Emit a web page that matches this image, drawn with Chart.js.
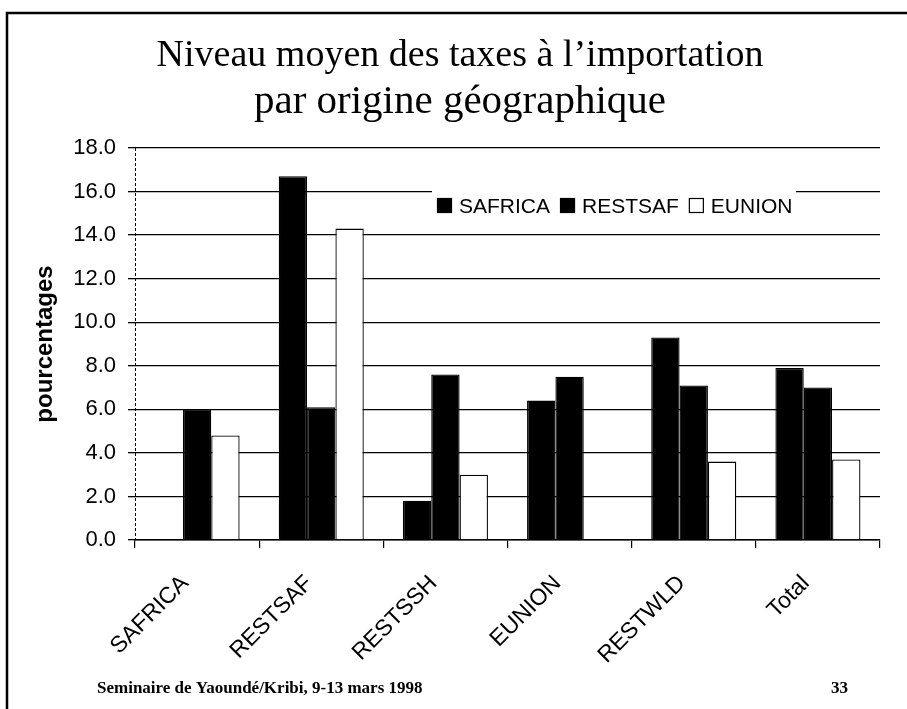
<!DOCTYPE html>
<html>
<head>
<meta charset="utf-8">
<script src="https://cdn.jsdelivr.net/npm/chart.js@4.4.0/dist/chart.umd.min.js"></script>
<style>
  html, body { margin: 0; padding: 0; background: #fff; }
  #wrap { width: 907px; height: 709px; }
</style>
</head>
<body>
<div id="wrap"><canvas id="c" width="907" height="709"></canvas></div>
<script>
// ---- data ----
const categories = ['SAFRICA', 'RESTSAF', 'RESTSSH', 'EUNION', 'RESTWLD', 'Total'];
const seriesNames = ['SAFRICA', 'RESTSAF', 'EUNION'];
const safricaValues = [null, 16.7, 1.8, 6.4, 9.3, 7.9];
const restsafValues = [6.0, 6.1, 7.6, 7.5, 7.1, 7.0];
const eunionValues  = [4.8, 14.3, 3.0, null, 3.6, 3.7];
const yTicks = [0, 2, 4, 6, 8, 10, 12, 14, 16, 18];
const titleLine1 = 'Niveau moyen des taxes à l\u2019importation';
const titleLine2 = 'par origine géographique';
const yTitle = 'pourcentages';
const footerLeft = 'Seminaire de Yaoundé/Kribi, 9-13 mars 1998';
const footerRight = '33';

const seriesFill = ['#000000', '#000000', '#ffffff'];

Chart.defaults.color = '#000';
Chart.defaults.font.family = '"Liberation Sans", Arial, sans-serif';

const decorPlugin = {
  id: 'decor',
  afterDraw(chart) {
    const ctx = chart.ctx;
    const ca = chart.chartArea;
    ctx.save();
    // frame
    ctx.strokeStyle = '#000';
    ctx.lineWidth = 2.5;
    ctx.beginPath();
    ctx.moveTo(7, 709);
    ctx.lineTo(7, 13);
    ctx.lineTo(907, 13);
    ctx.stroke();

    // dotted value axis line
    ctx.lineWidth = 1;
    ctx.setLineDash([3, 2]);
    ctx.beginPath();
    ctx.moveTo(ca.left + 0.5, ca.top);
    ctx.lineTo(ca.left + 0.5, ca.bottom);
    ctx.stroke();
    ctx.setLineDash([]);

    // legend inside plot
    ctx.fillStyle = '#fff';
    ctx.fillRect(432, 184, 364, 40);
    ctx.font = '21px "Liberation Sans", Arial, sans-serif';
    ctx.textBaseline = 'middle';
    ctx.textAlign = 'left';
    let x = 437;
    const yc = 206;
    seriesNames.forEach((name, i) => {
      ctx.fillStyle = seriesFill[i];
      ctx.fillRect(x, yc - 8, 15, 15);
      ctx.strokeStyle = '#000';
      ctx.lineWidth = 1.2;
      ctx.strokeRect(x + 0.5, yc - 7.5, 14, 14);
      x += 22;
      ctx.fillStyle = '#000';
      ctx.fillText(name, x, yc + 1);
      x += ctx.measureText(name).width + 10;
    });

    // footer
    ctx.font = 'bold 17px "Liberation Serif", "Times New Roman", serif';
    ctx.textBaseline = 'alphabetic';
    ctx.fillStyle = '#000';
    ctx.textAlign = 'left';
    ctx.fillText(footerLeft, 97, 693);
    ctx.textAlign = 'right';
    ctx.fillText(footerRight, 848, 693);
    ctx.restore();
  }
};

const datasets = [safricaValues, restsafValues, eunionValues].map((vals, i) => ({
  label: seriesNames[i],
  data: vals,
  backgroundColor: seriesFill[i],
  borderColor: '#000',
  borderWidth: 1.3,
  borderSkipped: 'bottom',
  categoryPercentage: 0.685,
  barPercentage: 1.0
}));

const serifFont = '"Liberation Serif", "Times New Roman", serif';
const padLeft = 40;

new Chart(document.getElementById('c'), {
  type: 'bar',
  data: { labels: categories, datasets },
  plugins: [decorPlugin],
  options: {
    responsive: false,
    animation: false,
    devicePixelRatio: 1,
    layout: { padding: { left: padLeft, right: 27, top: 0, bottom: 0 } },
    plugins: {
      legend: { display: false },
      tooltip: { enabled: false },
      title: {
        display: true,
        text: titleLine1,
        color: '#000',
        font: { family: serifFont, size: 38, weight: 'normal', lineHeight: 1.0 },
        padding: { top: 37, bottom: 7 }
      },
      subtitle: {
        display: true,
        fullSize: true,
        text: titleLine2,
        color: '#000',
        font: { family: serifFont, size: 41, weight: 'normal', lineHeight: 1.0 },
        padding: { top: 0, bottom: 25 }
      }
    },
    scales: {
      x: {
        afterFit(scale) { scale.height = 169; },
        grid: { offset: true, drawOnChartArea: false, drawTicks: true, tickLength: 8, color: '#000', lineWidth: 1.2 },
        border: { display: true, color: '#000', width: 1.5 },
        ticks: {
          autoSkip: false, minRotation: 45, maxRotation: 45, padding: 22, labelOffset: -12,
          font: { size: 23 }, color: '#000'
        }
      },
      y: {
        min: 0, max: 18,
        afterFit(scale) { scale.width = 135 - padLeft; },
        afterBuildTicks(scale) { scale.ticks = yTicks.map(v => ({ value: v })); },
        grid: { color: '#000', lineWidth: 1.3, drawTicks: true, tickLength: 7 },
        border: { display: false },
        ticks: {
          padding: 12,
          font: { size: 22 }, color: '#000',
          callback: v => Number(v).toFixed(1)
        },
        title: {
          display: true, text: yTitle, color: '#000',
          font: { size: 24, weight: 'bold' },
          padding: { top: 45 - 14.4 - padLeft, bottom: 0 }
        }
      }
    }
  }
});
</script>
</body>
</html>
